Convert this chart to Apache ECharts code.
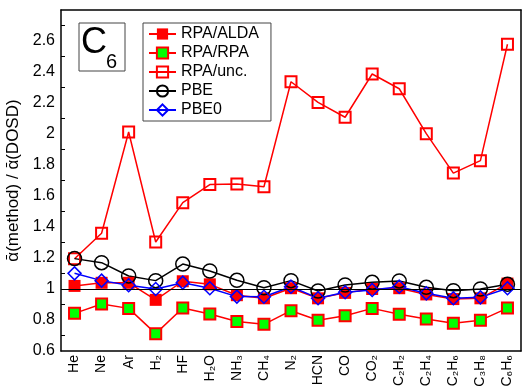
<!DOCTYPE html>
<html><head><meta charset="utf-8">
<script src="https://cdn.jsdelivr.net/npm/echarts@6/dist/echarts.min.js"></script>
<style>html,body{margin:0;padding:0;background:#fff}#c{width:522px;height:391px}</style>
</head><body><div id="c"></div>
<script>
const categories = ['He','Ne','Ar','H2','HF','H2O','NH3','CH4','N2','HCN','CO','CO2','C2H2','C2H4','C2H6','C3H8','C6H6'];
const rpaAlda = [1.02,1.04,1.04,0.93,1.05,1.03,0.96,0.94,1.005,0.94,0.975,1.0,1.005,0.965,0.935,0.94,1.035];
const rpaRpa  = [0.843,0.903,0.875,0.712,0.877,0.839,0.79,0.772,0.86,0.798,0.828,0.875,0.837,0.806,0.779,0.798,0.877];
const rpaUnc  = [1.195,1.36,2.013,1.303,1.557,1.674,1.677,1.66,2.337,2.204,2.108,2.387,2.292,2.002,1.748,1.828,2.579];
const pbe     = [1.196,1.17,1.084,1.054,1.161,1.116,1.056,1.008,1.054,0.987,1.026,1.043,1.052,1.011,0.989,1.0,1.03];
const pbe0    = [1.101,1.054,1.024,1.0,1.041,1.005,0.951,0.95,1.015,0.94,0.979,0.994,1.015,0.972,0.94,0.946,1.005];
const seriesNames = ['RPA/ALDA','RPA/RPA','RPA/unc.','PBE','PBE0'];
const yMin = 0.6, yMax = 2.8, yStep = 0.2;

const FONT = 'Liberation Sans';
function subDigits(s){
  return s.replace(/\d/g, d => String.fromCharCode(0x2080 + Number(d)));
}
const chart = echarts.init(document.getElementById('c'), null, {renderer:'canvas'});
const red = '#ff0000', green = '#00ff00', blue = '#0000ff', black = '#000000';
chart.setOption({
  animation: false,
  backgroundColor: '#fff',
  textStyle: {fontFamily: FONT},
  grid: {left: 61, right: 1, top: 10, bottom: 40, outerBoundsMode: 'none'},
  legend: {
    orient: 'vertical', left: 143, top: 23,
    padding: [3, 12, 3, 5], itemGap: 3, itemWidth: 27, itemHeight: 14,
    backgroundColor: '#fff', borderColor: '#444', borderWidth: 1,
    textStyle: {fontFamily: FONT, fontSize: 16, color: '#000'},
    data: seriesNames
  },
  xAxis: [{
    type: 'category', data: categories, boundaryGap: true,
    axisLine: {lineStyle: {color: black, width: 1.5}},
    axisTick: {inside: true, alignWithLabel: true, length: 7, lineStyle: {color: black}},
    axisLabel: {rotate: 90, interval: 0, margin: 4, fontSize: 14, color: '#000',
      formatter: v => subDigits(v)},
    splitLine: {show: false}
  }, {
    type: 'category', data: categories, position: 'top', boundaryGap: true,
    axisLine: {lineStyle: {color: black, width: 1.5}},
    axisTick: {inside: true, alignWithLabel: true, length: 7, lineStyle: {color: black}},
    axisLabel: {show: false}, splitLine: {show: false}
  }],
  yAxis: [{
    type: 'value', min: yMin, max: yMax, interval: yStep, position: 'left',
    name: 'ᾱ(method) / ᾱ(DOSD)', nameLocation: 'middle', nameGap: 36,
    nameTextStyle: {fontFamily: FONT, fontSize: 17, color: '#000'},
    axisLine: {show: true, lineStyle: {color: black, width: 1.5}},
    axisTick: {inside: true, length: 8, lineStyle: {color: black}},
    minorTick: {show: true, splitNumber: 2, length: 4, lineStyle: {color: black}},
    axisLabel: {
      margin: 6, fontSize: 16, color: '#000', fontFamily: FONT,
      formatter: v => Math.abs(v - yMax) < 1e-6 ? '' : String(+v.toFixed(1))
    },
    splitLine: {show: false}
  }, {
    type: 'value', min: yMin, max: yMax, interval: 0.1, position: 'right',
    axisLine: {show: true, lineStyle: {color: black, width: 1.5}},
    axisTick: {inside: true, length: 7, lineStyle: {color: black}},
    axisLabel: {show: false}, splitLine: {show: false}
  }],
  graphic: [
    {type: 'rect', shape: {x: 79, y: 23, width: 46, height: 48}, style: {fill: '#fff', stroke: '#444', lineWidth: 1}, z: 100},
    {type: 'text', x: 81, y: 43, style: {text: 'C', font: '36px "Liberation Sans"', fill: '#000', verticalAlign: 'middle'}, z: 101},
    {type: 'text', x: 106, y: 62, style: {text: '6', font: '20px "Liberation Sans"', fill: '#000', verticalAlign: 'middle'}, z: 101}
  ],
  series: [
    {name: seriesNames[0], type: 'line', data: rpaAlda, symbol: 'rect', symbolSize: 12,
     itemStyle: {color: red, borderColor: red, borderWidth: 0}, lineStyle: {color: red, width: 1.5},
     markLine: {silent: true, symbol: 'none', label: {show: false}, lineStyle: {color: black, width: 1, type: 'solid'}, data: [{yAxis: 1}]}},
    {name: seriesNames[1], type: 'line', data: rpaRpa, symbol: 'rect', symbolSize: 11,
     itemStyle: {color: green, borderColor: red, borderWidth: 2}, lineStyle: {color: red, width: 1.5}},
    {name: seriesNames[2], type: 'line', data: rpaUnc, symbol: 'rect', symbolSize: 11,
     itemStyle: {color: 'rgba(255,255,255,0)', borderColor: red, borderWidth: 2}, lineStyle: {color: red, width: 1.5}},
    {name: seriesNames[3], type: 'line', data: pbe, symbol: 'circle', symbolSize: 14,
     itemStyle: {color: 'rgba(255,255,255,0)', borderColor: black, borderWidth: 1.5}, lineStyle: {color: black, width: 1.5}},
    {name: seriesNames[4], type: 'line', data: pbe0, symbol: 'diamond', symbolSize: 13,
     itemStyle: {color: 'rgba(255,255,255,0)', borderColor: blue, borderWidth: 1.5}, lineStyle: {color: blue, width: 1.5}}
  ]
});
</script></body></html>
